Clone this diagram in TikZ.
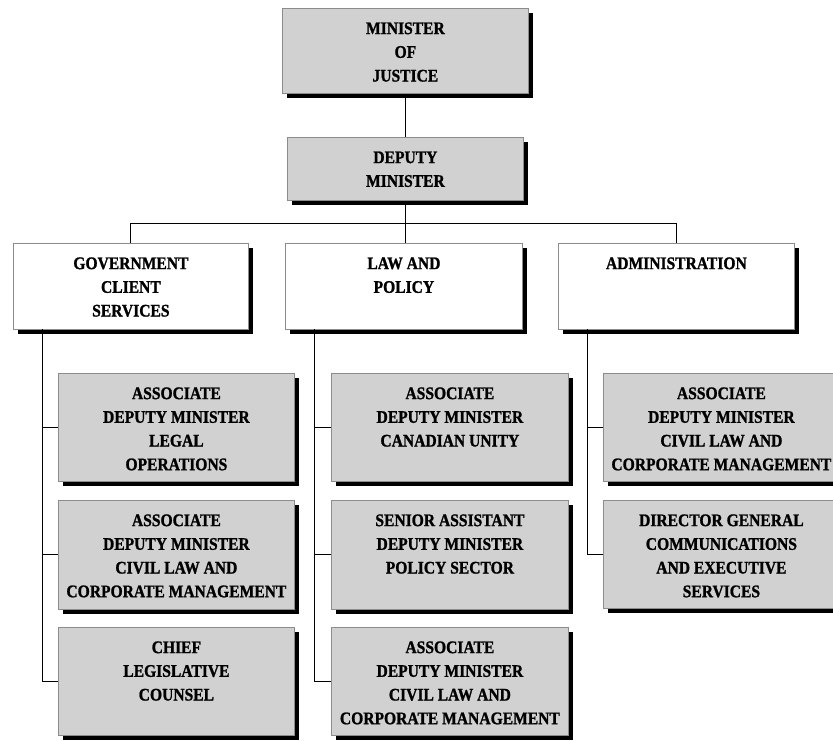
\documentclass[tikz,border=0pt]{standalone}
\usepackage{fontspec}
\setmainfont{Liberation Serif}[FakeStretch=0.88, BoldFeatures={FakeBold=1.2}]
\usetikzlibrary{shadows}
\newcommand{\orgtxt}[3]{\parbox[c][#2pt][t]{#1pt}{\centering\fontsize{17.7}{23.7}\selectfont\bfseries\rule{0pt}{25.7pt}#3\par}}
\tikzset{
  orgbox/.style={draw=black!45, line width=0.8pt, inner sep=0pt, anchor=north west,
    drop shadow={shadow xshift=5pt, shadow yshift=-5pt, fill=black, opacity=1}},
  grayfill/.style={orgbox, fill=black!18},
  whitefill/.style={orgbox, fill=white},
  conn/.style={draw=black, line width=0.9pt}
}
\begin{document}
\begin{tikzpicture}[x=1pt,y=-1pt]
\useasboundingbox (0,0) rectangle (833,740);
% top
\node[grayfill] (min) at (282,8) {\orgtxt{246}{85}{MINISTER\\OF\\JUSTICE}};
\node[grayfill] (dep) at (287,137) {\orgtxt{236}{63}{DEPUTY\\MINISTER}};
% branches
\node[whitefill] (gov) at (13,243) {\orgtxt{235}{86}{GOVERNMENT\\CLIENT\\SERVICES}};
\node[whitefill] (law) at (285,243) {\orgtxt{237}{86}{LAW AND\\POLICY}};
\node[whitefill] (adm) at (558,243) {\orgtxt{236}{86}{ADMINISTRATION}};
% gov children
\node[grayfill] (g1) at (58,373) {\orgtxt{236}{108}{ASSOCIATE\\DEPUTY MINISTER\\LEGAL\\OPERATIONS}};
\node[grayfill] (g2) at (58,500) {\orgtxt{236}{109}{ASSOCIATE\\DEPUTY MINISTER\\CIVIL LAW AND\\CORPORATE MANAGEMENT}};
\node[grayfill] (g3) at (58,627) {\orgtxt{236}{108}{CHIEF\\LEGISLATIVE\\COUNSEL}};
% law children
\node[grayfill] (l1) at (331,373) {\orgtxt{237}{108}{ASSOCIATE\\DEPUTY MINISTER\\CANADIAN UNITY}};
\node[grayfill] (l2) at (331,500) {\orgtxt{237}{109}{SENIOR ASSISTANT\\DEPUTY MINISTER\\POLICY SECTOR}};
\node[grayfill] (l3) at (331,627) {\orgtxt{237}{108}{ASSOCIATE\\DEPUTY MINISTER\\CIVIL LAW AND\\CORPORATE MANAGEMENT}};
% admin children
\node[grayfill] (a1) at (603,373) {\orgtxt{236}{108}{ASSOCIATE\\DEPUTY MINISTER\\CIVIL LAW AND\\CORPORATE MANAGEMENT}};
\node[grayfill] (a2) at (603,500) {\orgtxt{236}{108}{DIRECTOR GENERAL\\COMMUNICATIONS\\AND EXECUTIVE\\SERVICES}};
% connectors
\coordinate (bar) at (0,223);
\draw[conn] (min.south) -- (min.south |- dep.north);
\draw[conn] (dep.south) -- (dep.south |- law.north);
\draw[conn] (gov.north) -- (gov.north |- bar) -| (adm.north);
\coordinate (gt) at (42,329);
\coordinate (lt) at (314,329);
\coordinate (at) at (587,329);
\draw[conn] (gt) |- (g3.west);
\draw[conn] (gt |- g1.west) -- (g1.west);
\draw[conn] (gt |- g2.west) -- (g2.west);
\draw[conn] (lt) |- (l3.west);
\draw[conn] (lt |- l1.west) -- (l1.west);
\draw[conn] (lt |- l2.west) -- (l2.west);
\draw[conn] (at) |- (a2.west);
\draw[conn] (at |- a1.west) -- (a1.west);
\end{tikzpicture}
\end{document}
